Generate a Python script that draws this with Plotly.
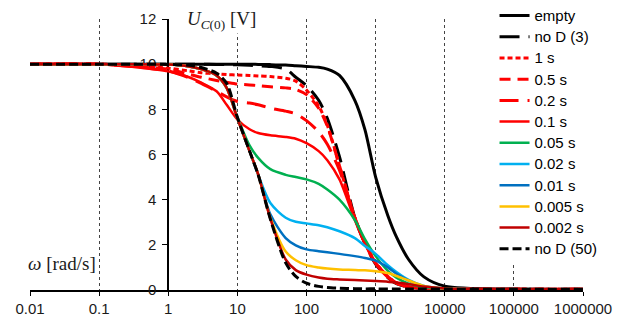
import plotly.graph_objects as go

OMEGA = [0.01, 0.1, 0.3, 1, 2, 3, 5, 7, 10, 15, 20, 30, 50, 70, 100, 150, 200,
         300, 500, 700, 1000, 1500, 2000, 3000, 5000, 10000, 100000, 1000000]

EMPTY = [10, 10, 10, 10, 10, 10, 10, 10, 10, 10, 9.99, 9.98, 9.96, 9.93, 9.9, 9.86, 9.78,
         9.5, 8.4, 7.1, 5.0, 3.3, 2.35, 1.35, 0.58, 0.17, 0.04, 0.03]
NOD3 = [10, 10, 10, 10, 10, 10, 9.99, 9.98, 9.97, 9.95, 9.93, 9.9, 9.78, 9.42, 9.05, 8.4, 7.6,
        5.9, 3.2, 2.05, 1.15, 0.55, 0.28, 0.13, 0.07, 0.05, 0.03, 0.03]
S1 = [10, 10, 9.95, 9.82, 9.7, 9.62, 9.57, 9.54, 9.52, 9.5, 9.48, 9.45, 9.38, 9.25, 8.85, 8.15, 7.3,
      5.5, 3.2, 2.1, 1.2, 0.6, 0.32, 0.14, 0.07, 0.05, 0.03, 0.03]
S05 = [10, 10, 9.93, 9.78, 9.55, 9.42, 9.28, 9.2, 9.12, 9.08, 9.05, 9.0, 8.95, 8.88, 8.65, 8.05, 7.25,
       5.5, 3.2, 2.1, 1.2, 0.6, 0.32, 0.14, 0.07, 0.05, 0.03, 0.03]
S02 = [10, 10, 9.9, 9.7, 9.4, 9.15, 8.8, 8.55, 8.35, 8.28, 8.2, 8.05, 7.92, 7.8, 7.5, 7.0, 6.45,
       5.3, 3.2, 2.1, 1.2, 0.6, 0.32, 0.14, 0.07, 0.05, 0.03, 0.03]
S01 = [10, 10, 9.88, 9.68, 9.42, 9.18, 8.8, 8.2, 7.55, 7.12, 6.95, 6.85, 6.78, 6.7, 6.5, 6.15, 5.75,
       4.9, 3.1, 2.05, 1.15, 0.55, 0.28, 0.13, 0.07, 0.05, 0.03, 0.03]
S005 = [10, 10, 10, 9.98, 9.9, 9.78, 9.5, 8.95, 7.65, 6.4, 5.85, 5.35, 5.1, 5.0, 4.9, 4.7, 4.45,
        4.0, 3.1, 2.25, 1.5, 0.85, 0.55, 0.28, 0.12, 0.05, 0.03, 0.03]
S002 = [10, 10, 10, 9.98, 9.9, 9.78, 9.5, 8.95, 7.6, 6.15, 5.1, 3.85, 3.2, 3.02, 2.95, 2.87, 2.78,
        2.6, 2.3, 1.95, 1.6, 1.1, 0.8, 0.45, 0.18, 0.07, 0.03, 0.03]
S001 = [10, 10, 10, 9.98, 9.9, 9.78, 9.5, 8.95, 7.6, 6.15, 5.12, 3.35, 2.3, 1.98, 1.8, 1.72, 1.67,
        1.6, 1.5, 1.42, 1.3, 1.0, 0.72, 0.42, 0.16, 0.07, 0.03, 0.03]
S0005 = [10, 10, 10, 9.98, 9.9, 9.78, 9.5, 8.95, 7.6, 6.15, 5.12, 3.2, 1.7, 1.32, 1.1, 1.0, 0.95,
         0.91, 0.89, 0.87, 0.83, 0.75, 0.62, 0.42, 0.18, 0.07, 0.03, 0.03]
S0002 = [10, 10, 10, 9.98, 9.9, 9.78, 9.5, 8.95, 7.6, 6.15, 5.12, 3.15, 1.35, 0.88, 0.68, 0.55, 0.5,
         0.47, 0.44, 0.42, 0.4, 0.37, 0.33, 0.26, 0.15, 0.07, 0.03, 0.03]
NOD50 = [10, 10, 10, 9.99, 9.95, 9.85, 9.6, 9.15, 7.65, 6.15, 5.1, 3.14, 1.2, 0.6, 0.3, 0.16, 0.11,
         0.08, 0.06, 0.05, 0.05, 0.04, 0.04, 0.04, 0.04, 0.04, 0.03, 0.03]

SERIES = [
    ("empty", EMPTY, "#000000", "solid", 3),
    ("no D (3)", NOD3, "#000000", "20px,9px", 3),
    ("1 s", S1, "#FF0000", "5px,3px", 3),
    ("0.5 s", S05, "#FF0000", "11px,7px", 3),
    ("0.2 s", S02, "#FF0000", "19px,9px", 3),
    ("0.1 s", S01, "#FF0000", "solid", 2.5),
    ("0.05 s", S005, "#00B050", "solid", 2.5),
    ("0.02 s", S002, "#00B0F0", "solid", 2.5),
    ("0.01 s", S001, "#0070C0", "solid", 2.5),
    ("0.005 s", S0005, "#FFC000", "solid", 2.5),
    ("0.002 s", S0002, "#C00000", "solid", 2.5),
    ("no D (50)", NOD50, "#000000", "9px,4px", 3),
]

X_TICKS = [0.01, 0.1, 1, 10, 100, 1000, 10000, 100000, 1000000]
X_TICKTEXT = ["0.01", "0.1", "1", "10", "100", "1000", "10000", "100000", "1000000"]

fig = go.Figure()
for name, vals, color, dash, w in SERIES:
    fig.add_trace(go.Scatter(
        x=OMEGA, y=vals, mode="lines",
        name="<span style='font-size:15px'>%s</span>" % name,
        line=dict(color=color, dash=dash, width=w, shape="spline", smoothing=0.8),
    ))

SANS = "Liberation Sans, Arial, sans-serif"
SERIF = "Liberation Serif, DejaVu Serif, serif"

# plot area paper space spans y=0..290 px; the value axis occupies 19..290 px
Y_DOMAIN_TOP = (290 - 19) / 290

fig.update_layout(
    width=634, height=322,
    margin=dict(l=30, r=51, t=0, b=32),
    paper_bgcolor="white", plot_bgcolor="white",
    font=dict(family=SANS, size=15, color="#1a1a1a"),
    xaxis=dict(
        type="log", range=[-2, 6],
        tickvals=X_TICKS, ticktext=X_TICKTEXT,
        showgrid=True, griddash="3px,3px", gridcolor="#444", gridwidth=1,
        showline=True, linecolor="black", linewidth=2,
        ticks="outside", ticklen=4, tickcolor="black",
        zeroline=False, layer="below traces", automargin=False,
    ),
    yaxis=dict(
        range=[0, 12], dtick=2, domain=[0, Y_DOMAIN_TOP],
        anchor="free", position=0.25,
        showgrid=False, zeroline=False,
        showline=True, linecolor="black", linewidth=2,
        ticks="outside", ticklen=5, tickcolor="black",
        ticklabelstandoff=3,
        layer="below traces", automargin=False,
    ),
    legend=dict(
        x=0.84, y=1.0, xanchor="left", yanchor="top",
        bgcolor="white", font=dict(family=SANS, size=14, color="black"),
        tracegroupgap=0, maxheight=1000,
    ),
    annotations=[
        dict(text="<i>U</i><sub><i>C</i>(0)</sub> [V]", x=0.347, y=0.931,
             xanchor="center", yanchor="middle",
             xref="paper", yref="paper", showarrow=False, bgcolor="white",
             font=dict(family=SERIF, size=19, color="#1a1a1a")),
        dict(text="<i>ω</i> [rad/s]", x=0.058, y=0.093,
             xanchor="center", yanchor="middle",
             xref="paper", yref="paper", showarrow=False, bgcolor="white",
             font=dict(family=SERIF, size=19, color="#1a1a1a")),
    ],
)

fig.write_html("out.html", config={"displayModeBar": False},
               post_script="document.body.style.margin='0';")
